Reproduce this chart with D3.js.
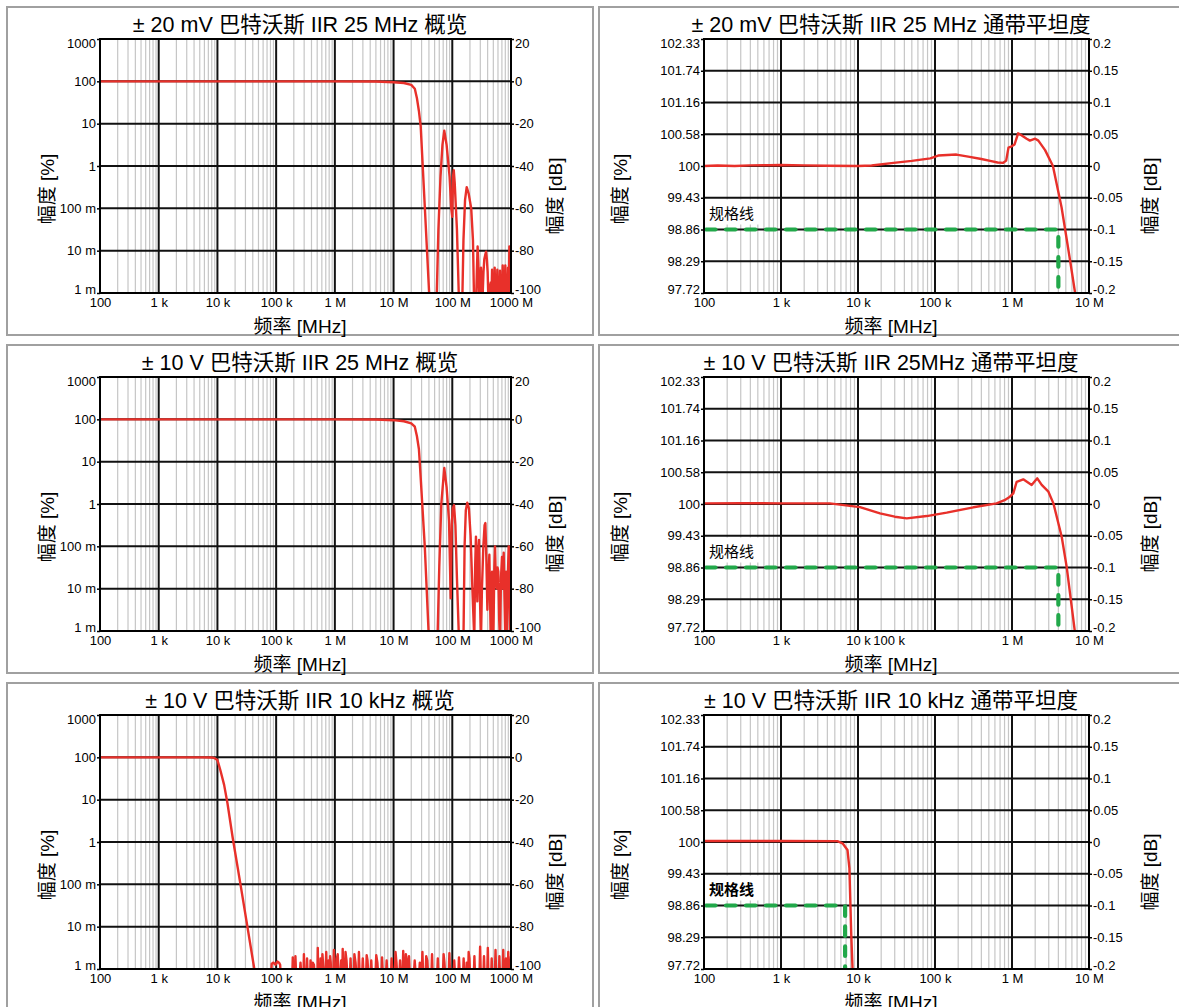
<!DOCTYPE html>
<html><head><meta charset="utf-8">
<script src="https://cdn.jsdelivr.net/npm/d3@7/dist/d3.min.js"></script>
<style>
body{margin:0;background:#fff;}
svg text{font-family:"Liberation Sans",Arial,"Noto Sans CJK SC",sans-serif;fill:#000;}
</style></head><body>
<svg id="chart" width="1179" height="1007"></svg>
<script>
// ---------- DATA ----------
const titles = [
  "± 20 mV 巴特沃斯 IIR 25 MHz 概览",
  "± 20 mV 巴特沃斯 IIR 25 MHz 通带平坦度",
  "± 10 V 巴特沃斯 IIR 25 MHz 概览",
  "± 10 V 巴特沃斯 IIR 25MHz 通带平坦度",
  "± 10 V 巴特沃斯 IIR 10 kHz 概览",
  "± 10 V 巴特沃斯 IIR 10 kHz 通带平坦度"
];
const xAxisTitle = "频率 [MHz]";
const yAxisTitleLeft = "幅度 [%]";
const yAxisTitleRight = "幅度 [dB]";
const specLabel = "规格线";

const ovXTicks = [1e2, 1e3, 1e4, 1e5, 1e6, 1e7, 1e8, 1e9];
const ovXLabels = ["100", "1 k", "10 k", "100 k", "1 M", "10 M", "100 M", "1000 M"];
const ovYTicks = [20, 0, -20, -40, -60, -80, -100];
const ovYLabelsPct = ["1000", "100", "10", "1", "100 m", "10 m", "1 m"];
const ovYLabelsDb = ["20", "0", "-20", "-40", "-60", "-80", "-100"];

const flXTicks = [1e2, 1e3, 1e4, 1e5, 1e6, 1e7];
const flXTicksRow2 = [1e2, 1e3, 1e4, 2.5e4, 1e6, 1e7];
const flXLabels = ["100", "1 k", "10 k", "100 k", "1 M", "10 M"];
const flYTicks = [0.2, 0.15, 0.1, 0.05, 0, -0.05, -0.1, -0.15, -0.2];
const flYLabelsPct = ["102.33", "101.74", "101.16", "100.58", "100", "99.43", "98.86", "98.29", "97.72"];
const flYLabelsDb = ["0.2", "0.15", "0.1", "0.05", "0", "-0.05", "-0.1", "-0.15", "-0.2"];

const specLevelDb = -0.1;
const specFreqs = [4e6, 4e6, 6.8e3];

// [frequency Hz, amplitude dB]
const ov20mV = [
  [100,0],[1e6,0],[5e6,-0.1],[1e7,-0.4],[1.5e7,-0.8],[2e7,-1.7],[2.3e7,-3.5],[2.5e7,-8],[2.7e7,-14],[2.9e7,-21.4],
  [3.4e7,-59],[4.1e7,-104],[5.4e7,-104],[5.8e7,-70],[6.3e7,-45],[6.8e7,-30],[7.3e7,-23.3],[8e7,-30],[9e7,-45],
  [9.6e7,-60],[1e8,-64],[1.03e8,-45],[1.06e8,-42],[1.1e8,-48],[1.2e8,-70],[1.3e8,-104],[1.48e8,-104],[1.55e8,-75],
  [1.65e8,-56],[1.76e8,-50],[1.9e8,-53],[2.1e8,-60],[2.25e8,-75],[2.35e8,-104],
  [2.55e8,-103],[2.62e8,-90],[2.7e8,-78],[2.78e8,-86],[2.85e8,-100],[2.91e8,-90],[2.97e8,-92],[3.02e8,-103],
  [3.08e8,-88],[3.18e8,-97],[3.29e8,-101],[3.4e8,-90],[3.51e8,-84],[3.64e8,-82],[3.76e8,-80.5],[3.88e8,-84],
  [4e8,-90],[4.12e8,-103],[4.23e8,-96],[4.37e8,-103],[4.52e8,-95],[4.64e8,-103],[4.76e8,-89],[4.88e8,-103],
  [5.01e8,-97],[5.14e8,-103],[5.27e8,-88],[5.41e8,-103],[5.56e8,-92],[5.7e8,-103],[5.85e8,-89],[6e8,-103],
  [6.16e8,-94],[6.33e8,-103],[6.5e8,-89.5],[6.67e8,-103],[6.85e8,-93],[7.03e8,-103],[7.22e8,-87],[7.4e8,-103],
  [7.6e8,-90],[7.8e8,-103],[8e8,-87],[8.2e8,-103],[8.43e8,-93],[8.65e8,-103],[8.9e8,-88],[9.1e8,-103],
  [9.38e8,-78],[9.6e8,-103],[9.8e8,-90],[1e9,-78]
];
const ov10V25M = [
  [100,0],[1e6,0],[5e6,-0.1],[1e7,-0.4],[1.5e7,-0.9],[2e7,-1.9],[2.3e7,-3.5],[2.5e7,-8],[2.7e7,-14],[2.8e7,-20.8],
  [3.4e7,-60],[4e7,-104],[5.6e7,-104],[6e7,-70],[6.5e7,-40],[7.3e7,-23],[8e7,-32],[8.8e7,-48],[9.4e7,-84.5],
  [9.8e7,-50],[1.02e8,-42],[1.07e8,-40.5],[1.13e8,-50],[1.2e8,-75],[1.3e8,-104],[1.55e8,-104],[1.62e8,-60],
  [1.7e8,-43],[1.8e8,-39.4],[1.92e8,-42],[2.05e8,-55],[2.2e8,-80],[2.37e8,-104],[2.45e8,-70],[2.53e8,-55.4],
  [2.6e8,-70],[2.67e8,-86],[2.75e8,-65],[2.85e8,-57],[2.97e8,-86],[3.08e8,-104],[3.2e8,-80],[3.38e8,-60],
  [3.55e8,-50],[3.66e8,-49],[3.8e8,-65],[3.96e8,-90],[4.1e8,-75],[4.28e8,-64],[4.4e8,-85],[4.52e8,-104],
  [4.65e8,-80],[4.76e8,-72],[4.9e8,-90],[5.01e8,-104],[5.2e8,-70],[5.35e8,-60],[5.5e8,-75],[5.71e8,-80],
  [5.9e8,-70],[6.08e8,-72],[6.3e8,-95],[6.5e8,-104],[6.75e8,-75],[7.03e8,-65],[7.25e8,-80],[7.51e8,-63],
  [7.75e8,-85],[8e8,-104],[8.22e8,-72],[8.45e8,-104],[8.7e8,-80],[9.14e8,-60],[9.4e8,-85],[9.7e8,-104],[1e9,-60]
];
const ov10V10k = [
  [100,0],[5e3,0],[8e3,-0.1],[9e3,-0.4],[1e4,-1.3],[1.12e4,-6],[1.3e4,-13],[1.48e4,-21.6],[1.82e4,-38],[2.47e4,-60],
  [4.25e4,-100],[4.4e4,-104],
  [8.2e4,-104],[8.4e4,-97.5],[9e4,-97],[9.8e4,-98],[1.05e5,-96.5],[1.12e5,-97],[1.17e5,-98],[1.2e5,-104],
  [1.88e5,-104],[1.92e5,-94.5],[1.97e5,-104],[2.08e5,-104],[2.13e5,-94],[2.2e5,-104],
  [2.5e5,-104],[2.6e5,-97],[2.7e5,-104],[2.92e5,-104],[2.97e5,-93],[3.05e5,-104],[3.3e5,-104],[3.36e5,-95],[3.45e5,-104],
  [3.8e5,-104],[3.85e5,-96],[3.95e5,-104],[4.15e5,-104],[4.2e5,-97],[4.4e5,-98],[4.6e5,-104],
  [5.05e5,-104],[5.12e5,-90],[5.2e5,-104],[5.6e5,-104],[5.7e5,-95],[5.8e5,-104],
  [6.05e5,-104],[6.14e5,-93],[6.25e5,-96],[6.5e5,-104],[6.9e5,-104],[7.13e5,-92],[7.35e5,-104],
  [7.7e5,-104],[7.85e5,-96],[8e5,-104],[8.2e5,-104],[8.3e5,-94],[8.5e5,-97],[8.7e5,-104],
  [9.4e5,-104],[9.64e5,-91],[9.9e5,-104],[1.05e6,-104],[1.08e6,-95],[1.12e6,-93],[1.16e6,-104],
  [1.24e6,-104],[1.28e6,-96],[1.32e6,-104],[1.34e6,-104],[1.36e6,-90.5],[1.4e6,-104],
  [1.48e6,-104],[1.52e6,-92],[1.58e6,-96],[1.64e6,-104],[1.8e6,-104],[1.85e6,-95],[1.9e6,-104],
  [2.1e6,-104],[2.15e6,-93],[2.25e6,-97],[2.35e6,-104],[2.5e6,-104],[2.57e6,-92],[2.65e6,-104],
  [2.9e6,-104],[2.99e6,-95],[3.1e6,-104],[3.4e6,-104],[3.48e6,-93.5],[3.6e6,-96],[3.75e6,-104],
  [4.05e6,-104],[4.17e6,-96],[4.3e6,-104],[4.9e6,-104],[5.07e6,-93.5],[5.3e6,-97],[5.5e6,-104],
  [6.2e6,-104],[6.36e6,-94.5],[6.6e6,-104],[7.4e6,-104],[7.62e6,-96],[7.9e6,-104],
  [9e6,-104],[9.27e6,-95],[9.6e6,-104],[1.05e7,-104],[1.08e7,-92],[1.12e7,-97],[1.16e7,-104],
  [1.25e7,-104],[1.29e7,-96],[1.33e7,-104],[1.42e7,-104],[1.46e7,-91.5],[1.5e7,-104],
  [1.58e7,-104],[1.62e7,-93],[1.7e7,-97],[1.78e7,-104],[1.8e7,-104],[1.83e7,-94],[1.9e7,-104],
  [2.2e7,-104],[2.29e7,-96],[2.4e7,-104],[2.7e7,-104],[2.8e7,-97],[2.9e7,-104],
  [3e7,-104],[3.1e7,-92],[3.2e7,-104],[3.5e7,-104],[3.6e7,-94],[3.75e7,-96],[3.9e7,-104],
  [4.4e7,-104],[4.52e7,-93],[4.65e7,-104],[5.5e7,-104],[5.67e7,-95],[5.85e7,-104],
  [6.9e7,-104],[7.11e7,-93],[7.35e7,-97],[7.6e7,-104],[8.7e7,-104],[8.92e7,-92.5],[9.2e7,-104],
  [1.05e8,-104],[1.08e8,-96],[1.12e8,-104],[1.26e8,-104],[1.3e8,-94.5],[1.35e8,-104],
  [1.52e8,-104],[1.56e8,-95],[1.61e8,-104],[1.72e8,-104],[1.76e8,-97],[1.8e8,-104],
  [1.86e8,-104],[1.9e8,-92],[1.96e8,-95],[2.02e8,-104],[2.32e8,-104],[2.38e8,-94],[2.45e8,-104],
  [2.9e8,-104],[2.98e8,-89.5],[3.06e8,-104],[3.38e8,-104],[3.47e8,-94],[3.56e8,-104],
  [3.93e8,-104],[4.03e8,-90],[4.13e8,-104],[4.58e8,-104],[4.69e8,-95],[4.8e8,-104],
  [5.3e8,-104],[5.45e8,-91],[5.6e8,-104],[6.2e8,-104],[6.34e8,-94],[6.5e8,-104],
  [7.2e8,-104],[7.38e8,-91],[7.55e8,-104],[8e8,-104],[8.2e8,-95],[8.4e8,-104],
  [8.8e8,-104],[8.98e8,-92],[9.2e8,-104],[9.6e8,-104],[1e9,-94]
];
const flat20mV = [
  [100,0],[150,0.0008],[250,0],[400,0.001],[700,0.0012],[1e3,0.0015],[2e3,0.001],[4e3,0.0005],[1e4,0],
  [1.5e4,0.0008],[2.9e4,0.005],[5e4,0.008],[8.7e4,0.012],[1.1e5,0.0165],[1.9e5,0.018],[2.7e5,0.0147],
  [4e5,0.011],[5.2e5,0.008],[6.5e5,0.0055],[7.7e5,0.005],[8.4e5,0.0085],[9e5,0.029],[9.9e5,0.031],
  [1.08e6,0.034],[1.2e6,0.0515],[1.34e6,0.048],[1.55e6,0.043],[1.71e6,0.04],[2e6,0.043],[2.2e6,0.04],
  [2.69e6,0.025],[3.4e6,0],[4.4e6,-0.065],[4.9e6,-0.1],[5.7e6,-0.15],[6.6e6,-0.2],[7e6,-0.23]
];
const flat10V25M = [
  [100,0.001],[300,0.0012],[1e3,0.001],[4.3e3,0.001],[1.06e4,-0.005],[1.93e4,-0.0147],[3e4,-0.02],
  [4.3e4,-0.0226],[7.8e4,-0.019],[1.42e5,-0.0136],[3.15e5,-0.0052],[6.31e5,0.001],[8e5,0.006],
  [9.4e5,0.0115],[1.04e6,0.0168],[1.15e6,0.035],[1.4e6,0.0388],[1.8e6,0.030],[2.13e6,0.0404],
  [2.43e6,0.030],[2.97e6,0.0194],[3.45e6,0.001],[4.42e6,-0.0515],[5.13e6,-0.099],[6.6e6,-0.204],[7e6,-0.23]
];
const flat10V10k = [
  [100,0.0016],[1e3,0.0016],[5.4e3,0.0014],[6.3e3,-0.002],[7.3e3,-0.0125],[7.73e3,-0.041],
  [8.17e3,-0.145],[8.5e3,-0.2],[8.6e3,-0.23]
];

// ---------- DRAW ----------
const svg = d3.select("#chart");
const rowTop = [39, 377, 715], plotH = 254;
const cols = [
  {px0: 7, px1: 593, x0: 100, x1: 511, ylOff: 53, yrOff: 44},
  {px0: 599, px1: 1183, x0: 704, x1: 1089, ylOff: 84, yrOff: 61}
];
const panels = [
  {r: 0, c: 0, kind: "ov", title: titles[0], data: ov20mV},
  {r: 0, c: 1, kind: "fl", title: titles[1], data: flat20mV, spec: specFreqs[0], xt: flXTicks, bold: false},
  {r: 1, c: 0, kind: "ov", title: titles[2], data: ov10V25M},
  {r: 1, c: 1, kind: "fl", title: titles[3], data: flat10V25M, spec: specFreqs[1], xt: flXTicksRow2, bold: false},
  {r: 2, c: 0, kind: "ov", title: titles[4], data: ov10V10k},
  {r: 2, c: 1, kind: "fl", title: titles[5], data: flat10V10k, spec: specFreqs[2], xt: flXTicks, bold: true}
];
const RED = "#e8302a", GREEN = "#22a84a";

panels.forEach((p, i) => {
  const col = cols[p.c], top = rowTop[p.r], bot = top + plotH;
  const ov = p.kind === "ov";
  const g = svg.append("g");
  g.append("rect").attr("x", col.px0).attr("y", top - 32).attr("width", col.px1 - col.px0).attr("height", 328)
    .attr("fill", "#fff").attr("stroke", "#a0a0a0").attr("stroke-width", 2);

  const x = d3.scaleLog().domain(ov ? [1e2, 1e9] : [1e2, 1e7]).range([col.x0, col.x1]);
  const y = d3.scaleLinear().domain(ov ? [-100, 20] : [-0.2, 0.2]).range([bot, top]);
  const yT = ov ? ovYTicks : flYTicks;
  const allX = x.ticks();
  const majorX = allX.filter(d => Math.abs(Math.log10(d) - Math.round(Math.log10(d))) < 1e-9);
  const minorX = allX.filter(d => !majorX.includes(d));

  g.append("g").selectAll("line").data(minorX).join("line")
    .attr("x1", d => x(d)).attr("x2", d => x(d)).attr("y1", top).attr("y2", bot)
    .attr("stroke", "#c6c6c6").attr("stroke-width", 1.2);
  g.append("g").selectAll("line").data(majorX).join("line")
    .attr("x1", d => x(d)).attr("x2", d => x(d)).attr("y1", top).attr("y2", bot)
    .attr("stroke", "#111").attr("stroke-width", 2);
  g.append("g").selectAll("line").data(yT).join("line")
    .attr("x1", col.x0).attr("x2", col.x1).attr("y1", d => y(d)).attr("y2", d => y(d))
    .attr("stroke", "#111").attr("stroke-width", 2);

  const clipId = "clip" + i;
  svg.append("clipPath").attr("id", clipId).append("rect")
    .attr("x", col.x0).attr("y", top).attr("width", col.x1 - col.x0).attr("height", plotH);

  if (!ov) {
    const ys = y(specLevelDb), xs = x(p.spec);
    g.append("rect").attr("x", col.x0 + 1).attr("y", ys - 30).attr("width", 57).attr("height", 25).attr("fill", "#fff");
    g.append("text").attr("x", col.x0 + 5).attr("y", ys - 11).attr("font-size", 15)
      .attr("font-weight", p.bold ? "bold" : "normal").text(specLabel);
    g.append("path").attr("d", `M${col.x0 + 2},${ys}H${xs}V${bot - 1}`)
      .attr("fill", "none").attr("stroke", GREEN).attr("stroke-width", 4.2)
      .attr("stroke-linecap", "round").attr("stroke-dasharray", "9.5,10.5");
  }

  const line = d3.line().x(d => x(d[0])).y(d => y(d[1]));
  g.append("path").datum(p.data).attr("clip-path", `url(#${clipId})`).attr("d", line)
    .attr("fill", "none").attr("stroke", RED).attr("stroke-width", 2.4).attr("stroke-linejoin", "round");

  g.append("rect").attr("x", col.x0).attr("y", top).attr("width", col.x1 - col.x0).attr("height", plotH)
    .attr("fill", "none").attr("stroke", "#000").attr("stroke-width", 2);

  const yl = ov ? ovYLabelsPct : flYLabelsPct;
  const yr = ov ? ovYLabelsDb : flYLabelsDb;
  const xt = ov ? ovXTicks : p.xt;
  const xl = ov ? ovXLabels : flXLabels;
  const n = yT.length;

  const axL = g.append("g").attr("transform", `translate(${col.x0},0)`)
    .call(d3.axisLeft(y).tickValues(yT).tickFormat((d, k) => yl[k]).tickSize(3).tickPadding(1));
  const axR = g.append("g").attr("transform", `translate(${col.x1},0)`)
    .call(d3.axisRight(y).tickValues(yT).tickFormat((d, k) => yr[k]).tickSize(3).tickPadding(1));
  const axB = g.append("g").attr("transform", `translate(0,${bot})`)
    .call(d3.axisBottom(x).tickValues(xt).tickFormat((d, k) => xl[k]).tickSize(0).tickPadding(5));
  [axL, axR, axB].forEach(a => {
    a.select(".domain").remove();
    a.attr("font-size", 13);
    a.selectAll("line").attr("stroke", "#000").attr("stroke-width", 1.5);
  });
  [axL, axR].forEach(a => {
    a.selectAll(".tick text").attr("y", (d, k) => k === 0 ? 4 : (k === n - 1 ? -4 : 0));
  });

  const cx = (col.px0 + col.px1) / 2;
  g.append("text").attr("x", cx).attr("y", top - 7).attr("text-anchor", "middle")
    .attr("font-size", 21.5).text(p.title);
  g.append("text").attr("x", cx).attr("y", bot + 40).attr("text-anchor", "middle")
    .attr("font-size", 19).text(xAxisTitle);
  g.append("text").attr("transform", `translate(${col.x0 - col.ylOff},${top + 150}) rotate(-90)`)
    .attr("text-anchor", "middle").attr("dominant-baseline", "central").attr("font-size", 19).text(yAxisTitleLeft);
  g.append("text").attr("transform", `translate(${col.x1 + col.yrOff},${top + 157}) rotate(-90)`)
    .attr("text-anchor", "middle").attr("dominant-baseline", "central").attr("font-size", 19).text(yAxisTitleRight);
});
</script>
</body></html>
